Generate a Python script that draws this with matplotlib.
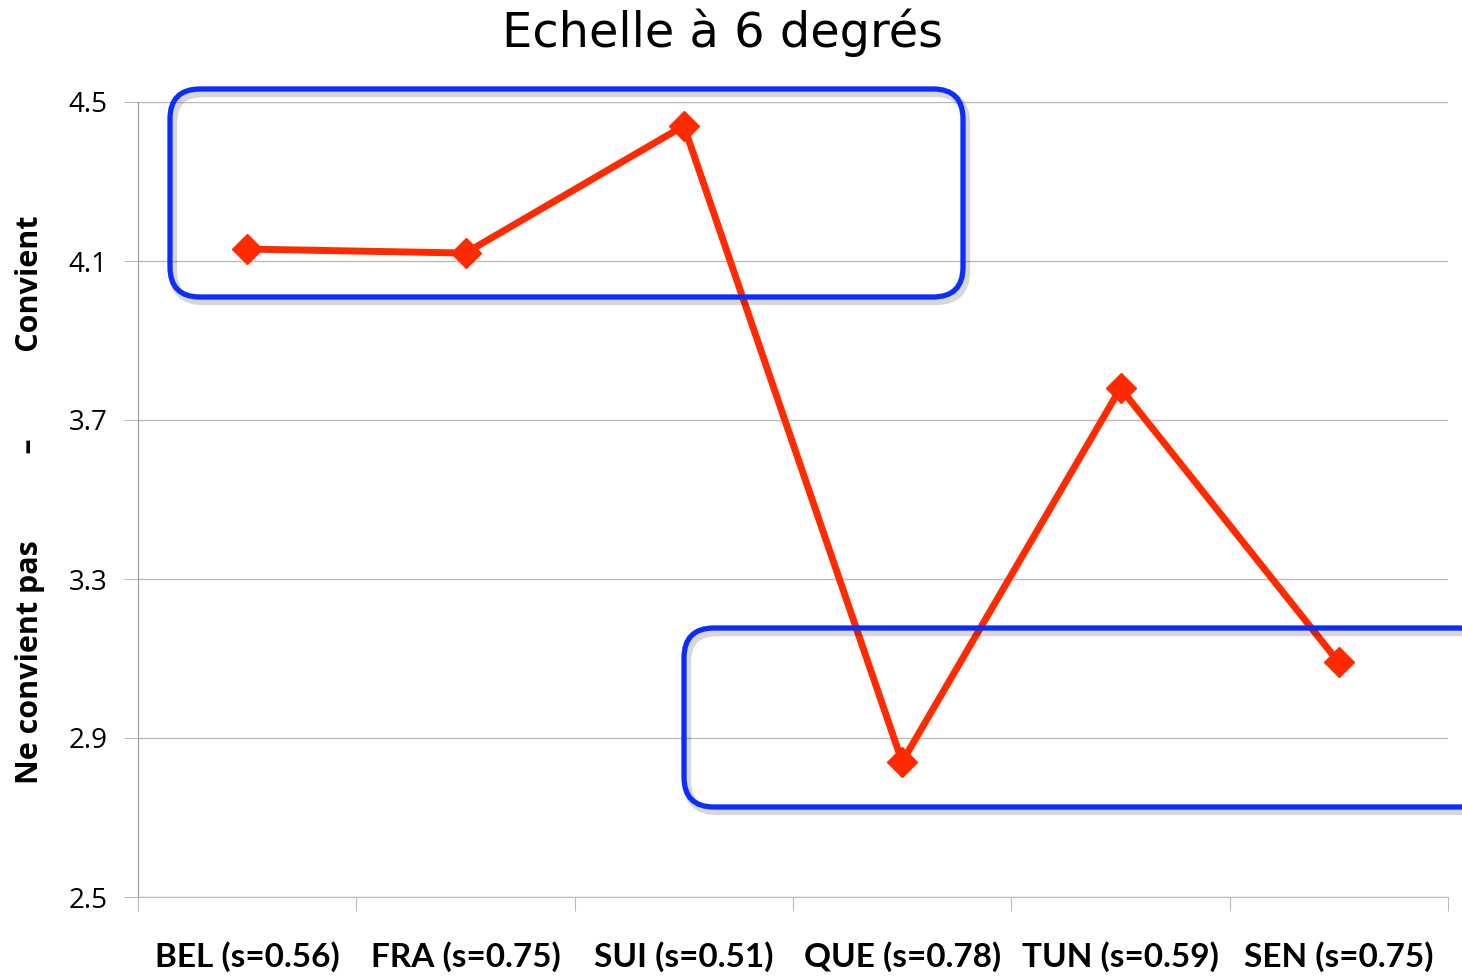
import matplotlib
matplotlib.use("Agg")
import matplotlib.pyplot as plt
from matplotlib.patches import FancyBboxPatch

categories = ["BEL (s=0.56)", "FRA (s=0.75)", "SUI (s=0.51)", "QUE (s=0.78)", "TUN (s=0.59)", "SEN (s=0.75)"]
values = [4.13, 4.12, 4.44, 2.84, 3.78, 3.09]
yticks = [2.5, 2.9, 3.3, 3.7, 4.1, 4.5]

W, H = 1462, 976
fig = plt.figure(figsize=(W / 100, H / 100), dpi=100)
ax = fig.add_axes([138 / W, 1 - 897 / H, (1448 - 138) / W, (897 - 102) / H])

x = list(range(len(categories)))
ax.plot(x, values, color="#FF2A00", lw=5, marker="D", ms=15, mec="#FF2A00", mfc="#FF2A00", zorder=3, clip_on=False)

ax.set_xlim(-0.5, 5.5)
ax.set_ylim(2.5, 4.5)
ax.set_yticks(yticks)
ax.set_yticklabels([f"{v:.1f}" for v in yticks], fontsize=20, family="Open Sans")
ax.yaxis.grid(True, color="#BBBBBB", lw=1)
ax.set_axisbelow(True)
for s in ["top", "right"]:
    ax.spines[s].set_visible(False)
ax.spines["left"].set_color("#999999")
ax.spines["bottom"].set_color("#BBBBBB")
ax.tick_params(axis="y", length=10, color="#BBBBBB", pad=12)
ax.set_xticks([i - 0.5 for i in range(len(categories) + 1)])
ax.set_xticklabels([""] * (len(categories) + 1))
ax.tick_params(axis="x", length=10, color="#BBBBBB", direction="out")
ax.set_xticks(x, minor=True)
ax.set_xticklabels(categories, minor=True, fontsize=24, fontweight="bold", family="Lato")
ax.tick_params(axis="x", which="minor", length=0, pad=32)

sp = " " * 11
fig.text(30 / W, 1 - 500 / H, f"Ne convient pas{sp}\u2013{sp}Convient", rotation=90,
         ha="center", va="center", fontsize=22, fontweight="bold", family="Open Sans")
fig.text(723 / W, 1 - 33 / H, "Echelle \u00e0 6 degr\u00e9s", ha="center", va="center",
         fontsize=34.5, family="DejaVu Sans")

def box(x0, y0, x1, y1):
    for dx, dy, col, lw, z in [(3, 4, "#00000028", 6, 4), (0, 0, "#0A2EFF", 3.8, 5)]:
        p = FancyBboxPatch((x0 + dx, H - y1 - dy), x1 - x0, y1 - y0,
                           boxstyle="round,pad=0,rounding_size=30",
                           fc="none", ec=col, lw=lw, transform=None, zorder=z, clip_on=False)
        fig.patches.append(p)

box(170, 89, 963, 297)
box(684, 628, 1490, 807)

fig.savefig("out.png", dpi=100)
